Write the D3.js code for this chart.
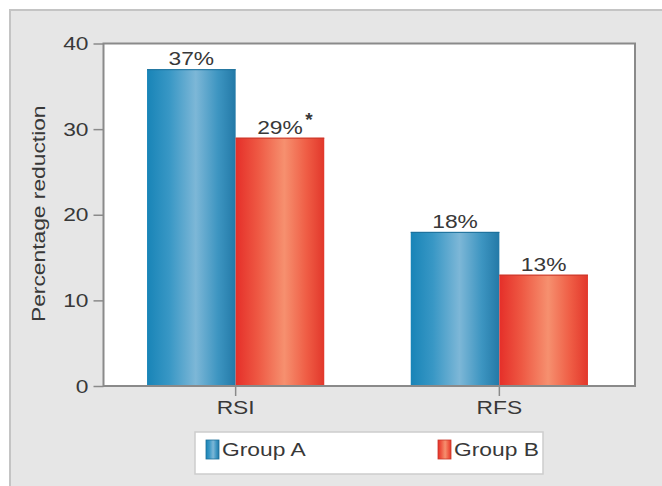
<!DOCTYPE html>
<html>
<head>
<meta charset="utf-8">
<script src="https://cdn.jsdelivr.net/npm/d3@7/dist/d3.min.js"></script>
<style>
  html, body { margin: 0; padding: 0; background: #ffffff; }
  svg { display: block; font-family: "Liberation Sans", Arial, sans-serif; }
</style>
</head>
<body>
<svg id="chart" width="662" height="486"></svg>
<script>
// Outcome categories and the two groups' percentage reductions
const categories = ["RSI", "RFS"];
const groups = ["Group A", "Group B"];
const groupAValues = [37, 18];
const groupBValues = [29, 13];
// Significance marker shown after a value label ("" = none)
const groupAMarks = ["", ""];
const groupBMarks = ["*", ""];
const yTicks = [0, 10, 20, 30, 40];
const yLabel = "Percentage reduction";

const seriesValues = [groupAValues, groupBValues];
const seriesMarks = [groupAMarks, groupBMarks];

const FONT = 19;       // text size
const STRETCH = 1.2;   // horizontal widening of the lettering
const TEXT = "#383838";

const svg = d3.select("#chart");
const W = 662, H = 486;

// Widen text horizontally around its own anchor point
function widen(sel) {
  sel.each(function () {
    const t = d3.select(this);
    const x = +t.attr("x") || 0;
    const prev = t.attr("transform") || "";
    t.attr("x", x / STRETCH).attr("transform", (prev + ` scale(${STRETCH},1)`).trim());
  });
}

// Grey panel behind the chart
svg.append("rect").attr("x", 10).attr("y", 10).attr("width", W).attr("height", H)
  .attr("fill", "#e6e6e6").attr("stroke", "#c4c4c4").attr("stroke-width", 2);

const plot = { left: 103.5, right: 635, top: 43.5, bottom: 386 };

// Gradients for the cylindrical-looking bars
const defs = svg.append("defs");
const gradStops = [
  [["0%", "#1884b7"], ["25%", "#3897c5"], ["55%", "#7db7d7"], ["80%", "#3d95c1"], ["100%", "#2379a7"]],
  [["0%", "#e52f29"], ["25%", "#ee5843"], ["55%", "#f6906f"], ["80%", "#ef5d45"], ["100%", "#e2372b"]]
];
gradStops.forEach((stops, i) => {
  const g = defs.append("linearGradient").attr("id", "grad" + i)
    .attr("x1", "0%").attr("x2", "100%").attr("y1", "0%").attr("y2", "0%");
  stops.forEach(([o, c]) => g.append("stop").attr("offset", o).attr("stop-color", c));
});

// Plot background
svg.append("rect")
  .attr("x", plot.left).attr("y", plot.top)
  .attr("width", plot.right - plot.left).attr("height", plot.bottom - plot.top)
  .attr("fill", "#ffffff");

const x0 = d3.scaleBand().domain(categories).range([103, 632])
  .paddingInner(0.328).paddingOuter(0.167);
const x1 = d3.scaleBand().domain(groups).range([0, x0.bandwidth()]);
const y = d3.scaleLinear().domain([0, 40]).range([plot.bottom, plot.top]);

const rows = categories.map((c, ci) => ({
  category: c,
  bars: groups.map((g, gi) => ({ group: g, gi, value: seriesValues[gi][ci], mark: seriesMarks[gi][ci] }))
}));

const cat = svg.append("g").selectAll("g").data(rows).join("g")
  .attr("transform", d => `translate(${x0(d.category)},0)`);

cat.selectAll("rect").data(d => d.bars).join("rect")
  .attr("x", d => x1(d.group))
  .attr("y", d => y(d.value))
  .attr("width", x1.bandwidth())
  .attr("height", d => y(0) - y(d.value))
  .attr("fill", d => `url(#grad${d.gi})`);

// Thin darker cap along each bar top
cat.selectAll("line.cap").data(d => d.bars).join("line")
  .attr("class", "cap")
  .attr("x1", d => x1(d.group)).attr("x2", d => x1(d.group) + x1.bandwidth())
  .attr("y1", d => y(d.value) + 0.5).attr("y2", d => y(d.value) + 0.5)
  .attr("stroke", d => d.gi === 0 ? "#1c6f99" : "#c9382a").attr("stroke-width", 1);

// Value labels, centred on each bar
const labels = cat.selectAll("text.val").data(d => d.bars).join("text")
  .attr("class", "val")
  .attr("x", d => x1(d.group) + x1.bandwidth() / 2)
  .attr("y", d => y(d.value) - 4)
  .attr("text-anchor", "middle")
  .attr("font-size", FONT)
  .attr("fill", TEXT)
  .text(d => d.value + "%");
widen(labels);

// Significance marker to the right of its value label
const marks = cat.selectAll("text.mark").data(d => d.bars.filter(b => b.mark)).join("text")
  .attr("class", "mark")
  .attr("x", d => x1(d.group) + x1.bandwidth() / 2 + 29)
  .attr("y", d => y(d.value) - 12)
  .attr("text-anchor", "middle")
  .attr("font-size", FONT).attr("font-weight", "bold")
  .attr("fill", TEXT)
  .text(d => d.mark);

// Plot frame
svg.append("rect")
  .attr("x", plot.left).attr("y", plot.top)
  .attr("width", plot.right - plot.left).attr("height", plot.bottom - plot.top)
  .attr("fill", "none").attr("stroke", "#8a8a8a").attr("stroke-width", 2);

// Y axis
const yAxis = svg.append("g").attr("transform", `translate(${plot.left},0)`)
  .call(d3.axisLeft(y).tickValues(yTicks).tickSize(10).tickPadding(5));
yAxis.select(".domain").remove();
yAxis.selectAll(".tick line").attr("stroke", "#8a8a8a").attr("stroke-width", 1.5);
yAxis.selectAll(".tick text").attr("font-size", FONT).attr("fill", TEXT)
  .attr("font-family", "'Liberation Sans', Arial, sans-serif");
widen(yAxis.selectAll(".tick text"));

// X axis
const xAxis = svg.append("g").attr("transform", `translate(0,${plot.bottom})`)
  .call(d3.axisBottom(x0).tickSize(10).tickPadding(5));
xAxis.select(".domain").remove();
xAxis.selectAll(".tick line").attr("stroke", "#8a8a8a").attr("stroke-width", 1.5);
xAxis.selectAll(".tick text").attr("font-size", FONT).attr("fill", TEXT)
  .attr("font-family", "'Liberation Sans', Arial, sans-serif");
widen(xAxis.selectAll(".tick text"));

// Y-axis title
svg.append("text")
  .attr("transform", `translate(45,${(plot.top + plot.bottom) / 2 - 1}) rotate(-90) scale(${STRETCH},1)`)
  .attr("text-anchor", "middle")
  .attr("font-size", FONT).attr("fill", TEXT)
  .text(yLabel);

// Legend
const legend = svg.append("g");
legend.append("rect")
  .attr("x", 195).attr("y", 432).attr("width", 348).attr("height", 42)
  .attr("fill", "#ffffff").attr("stroke", "#cdcdcd").attr("stroke-width", 1.5);
const legendX = d3.scalePoint().domain(groups).range([206, 438]);
const li = legend.selectAll("g").data(groups).join("g")
  .attr("transform", d => `translate(${legendX(d)},440)`);
li.append("rect").attr("width", 13).attr("height", 19)
  .attr("fill", (d, i) => `url(#grad${i})`)
  .attr("stroke", (d, i) => i === 0 ? "#1c6f99" : "#c9382a").attr("stroke-width", 0.8);
const legendText = li.append("text").attr("x", 16).attr("y", 16)
  .attr("font-size", FONT).attr("fill", TEXT)
  .text(d => d);
widen(legendText);
</script>
</body>
</html>
